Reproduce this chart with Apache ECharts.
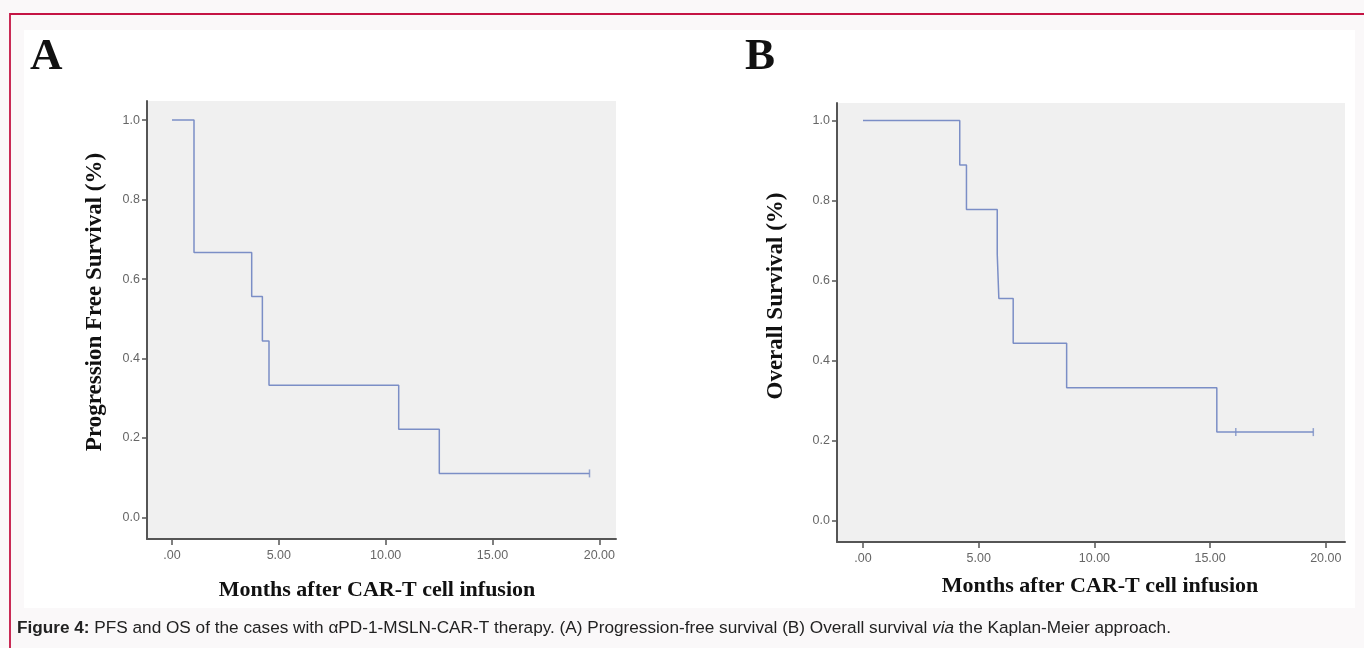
<!DOCTYPE html>
<html>
<head>
<meta charset="utf-8">
<script src="https://cdn.jsdelivr.net/npm/echarts@6/dist/echarts.min.js"></script>
<style>
html,body{margin:0;padding:0;background:#faf8f9;}
#chart{width:1364px;height:648px;}
</style>
</head>
<body>
<div id="chart"></div>
<script>
// Panel A: Progression-free survival (Kaplan-Meier steps)
const pfsTime = [0, 1.03, 3.73, 4.23, 4.54, 10.61, 12.51, 19.54];
const pfsSurv = [1.0, 0.667, 0.556, 0.444, 0.333, 0.222, 0.111, 0.111];
const pfsCensorTime = [19.54];
const pfsCensorSurv = [0.111];

// Panel B: Overall survival
const osTime = [0, 4.18, 4.47, 5.80, 5.87, 6.49, 8.80, 15.29, 19.46];
const osSurv = [1.0, 0.889, 0.778, 0.667, 0.556, 0.444, 0.333, 0.222, 0.222];
const osCensorTime = [16.11, 19.46];
const osCensorSurv = [0.222, 0.222];

const xTicks = [0, 5, 10, 15, 20];
const yTicks = [0, 0.2, 0.4, 0.6, 0.8, 1.0];

const panelLetters = ['A', 'B'];
const yTitles = ['Progression Free Survival (%)', 'Overall Survival (%)'];
const xTitle = 'Months after CAR-T cell infusion';
const captionBold = 'Figure 4:';
const captionText1 = ' PFS and OS of the cases with αPD-1-MSLN-CAR-T therapy. (A) Progression-free survival (B) Overall survival ';
const captionItalic = 'via';
const captionText2 = ' the Kaplan-Meier approach.';

const zip = (a, b) => a.map((v, i) => [v, b[i]]);

const axisColor = '#555555';
const lineColor = '#7b8ec6';
const tickFont = {color: '#666666', fontFamily: 'Liberation Sans', fontSize: 12.5};

function xAxisDef(gi, min, max) {
  return {
    type: 'value', gridIndex: gi, min: min, max: max,
    axisLine: {show: true, onZero: false, lineStyle: {color: axisColor, width: 2}},
    axisTick: {show: true, customValues: xTicks, length: 6, lineStyle: {color: axisColor, width: 1.5}},
    axisLabel: Object.assign({show: true, customValues: xTicks, margin: 10,
      formatter: v => v === 0 ? '.00' : Number(v).toFixed(2)}, tickFont),
    splitLine: {show: false}
  };
}
function yAxisDef(gi, min, max) {
  return {
    type: 'value', gridIndex: gi, min: min, max: max,
    axisLine: {show: true, onZero: false, lineStyle: {color: axisColor, width: 2}},
    axisTick: {show: true, customValues: yTicks, length: 5, lineStyle: {color: axisColor, width: 1.5}},
    axisLabel: Object.assign({show: true, customValues: yTicks, margin: 7,
      formatter: v => Number(v).toFixed(1)}, tickFont),
    splitLine: {show: false}
  };
}
const censorSymbol = 'rect';

const option = {
  backgroundColor: '#faf8f9',
  animation: false,
  graphic: [
    {type: 'rect', z: -100, silent: true, shape: {x: 10, y: 14, width: 1370, height: 700},
      style: {fill: '#faf8f9', stroke: '#c41444', lineWidth: 1.8}},
    {type: 'rect', z: -99, silent: true, shape: {x: 24, y: 30, width: 1331, height: 578},
      style: {fill: '#ffffff'}},
    {type: 'text', x: 30, y: 57, style: {text: panelLetters[0], font: 'bold 45px "Liberation Serif"', fill: '#111', textVerticalAlign: 'middle'}},
    {type: 'text', x: 745, y: 57, style: {text: panelLetters[1], font: 'bold 45px "Liberation Serif"', fill: '#111', textVerticalAlign: 'middle'}},
    {type: 'text', x: 95, y: 302, rotation: Math.PI / 2, style: {text: yTitles[0], font: 'bold 23px "Liberation Serif"', fill: '#111', textAlign: 'center', textVerticalAlign: 'middle'}},
    {type: 'text', x: 776, y: 296, rotation: Math.PI / 2, style: {text: yTitles[1], font: 'bold 23px "Liberation Serif"', fill: '#111', textAlign: 'center', textVerticalAlign: 'middle'}},
    {type: 'text', x: 377, y: 590, style: {text: xTitle, font: 'bold 22px "Liberation Serif"', fill: '#111', textAlign: 'center', textVerticalAlign: 'middle'}},
    {type: 'text', x: 1100, y: 586, style: {text: xTitle, font: 'bold 22px "Liberation Serif"', fill: '#111', textAlign: 'center', textVerticalAlign: 'middle'}},
    {type: 'text', x: 17, y: 628, style: {
      text: '{b|' + captionBold + '}{n|' + captionText1 + '}{i|' + captionItalic + '}{n|' + captionText2 + '}',
      textVerticalAlign: 'middle',
      rich: {
        b: {fontFamily: 'Liberation Sans', fontWeight: 'bold', fontSize: 17.2, fill: '#222', color: '#222'},
        n: {fontFamily: 'Liberation Sans', fontSize: 17.2, fill: '#222', color: '#222'},
        i: {fontFamily: 'Liberation Sans', fontStyle: 'italic', fontSize: 17.2, fill: '#222', color: '#222'}
      }}}
  ],
  grid: [
    {left: 147, right: 748, top: 101, bottom: 109, show: true, backgroundColor: '#f0f0f0', borderWidth: 0, outerBoundsMode: 'none', containLabel: false},
    {left: 837, right: 19, top: 103, bottom: 106, show: true, backgroundColor: '#f0f0f0', borderWidth: 0, outerBoundsMode: 'none', containLabel: false}
  ],
  xAxis: [xAxisDef(0, -1.17, 20.78), xAxisDef(1, -1.125, 20.83)],
  yAxis: [yAxisDef(0, -0.054, 1.048), yAxisDef(1, -0.0525, 1.044)],
  series: [
    {type: 'line', xAxisIndex: 0, yAxisIndex: 0, step: 'end', showSymbol: false, symbol: 'none',
      data: zip(pfsTime, pfsSurv), lineStyle: {color: lineColor, width: 1.5}, z: 3},
    {type: 'scatter', xAxisIndex: 0, yAxisIndex: 0, symbol: censorSymbol, symbolSize: [1.5, 8],
      data: zip(pfsCensorTime, pfsCensorSurv), itemStyle: {color: lineColor}, z: 4},
    {type: 'line', xAxisIndex: 1, yAxisIndex: 1, step: 'end', showSymbol: false, symbol: 'none',
      data: zip(osTime, osSurv), lineStyle: {color: lineColor, width: 1.5}, z: 3},
    {type: 'scatter', xAxisIndex: 1, yAxisIndex: 1, symbol: censorSymbol, symbolSize: [1.5, 8],
      data: zip(osCensorTime, osCensorSurv), itemStyle: {color: lineColor}, z: 4}
  ]
};

const chart = echarts.init(document.getElementById('chart'), null, {renderer: 'canvas'});
chart.setOption(option);
</script>
</body>
</html>
